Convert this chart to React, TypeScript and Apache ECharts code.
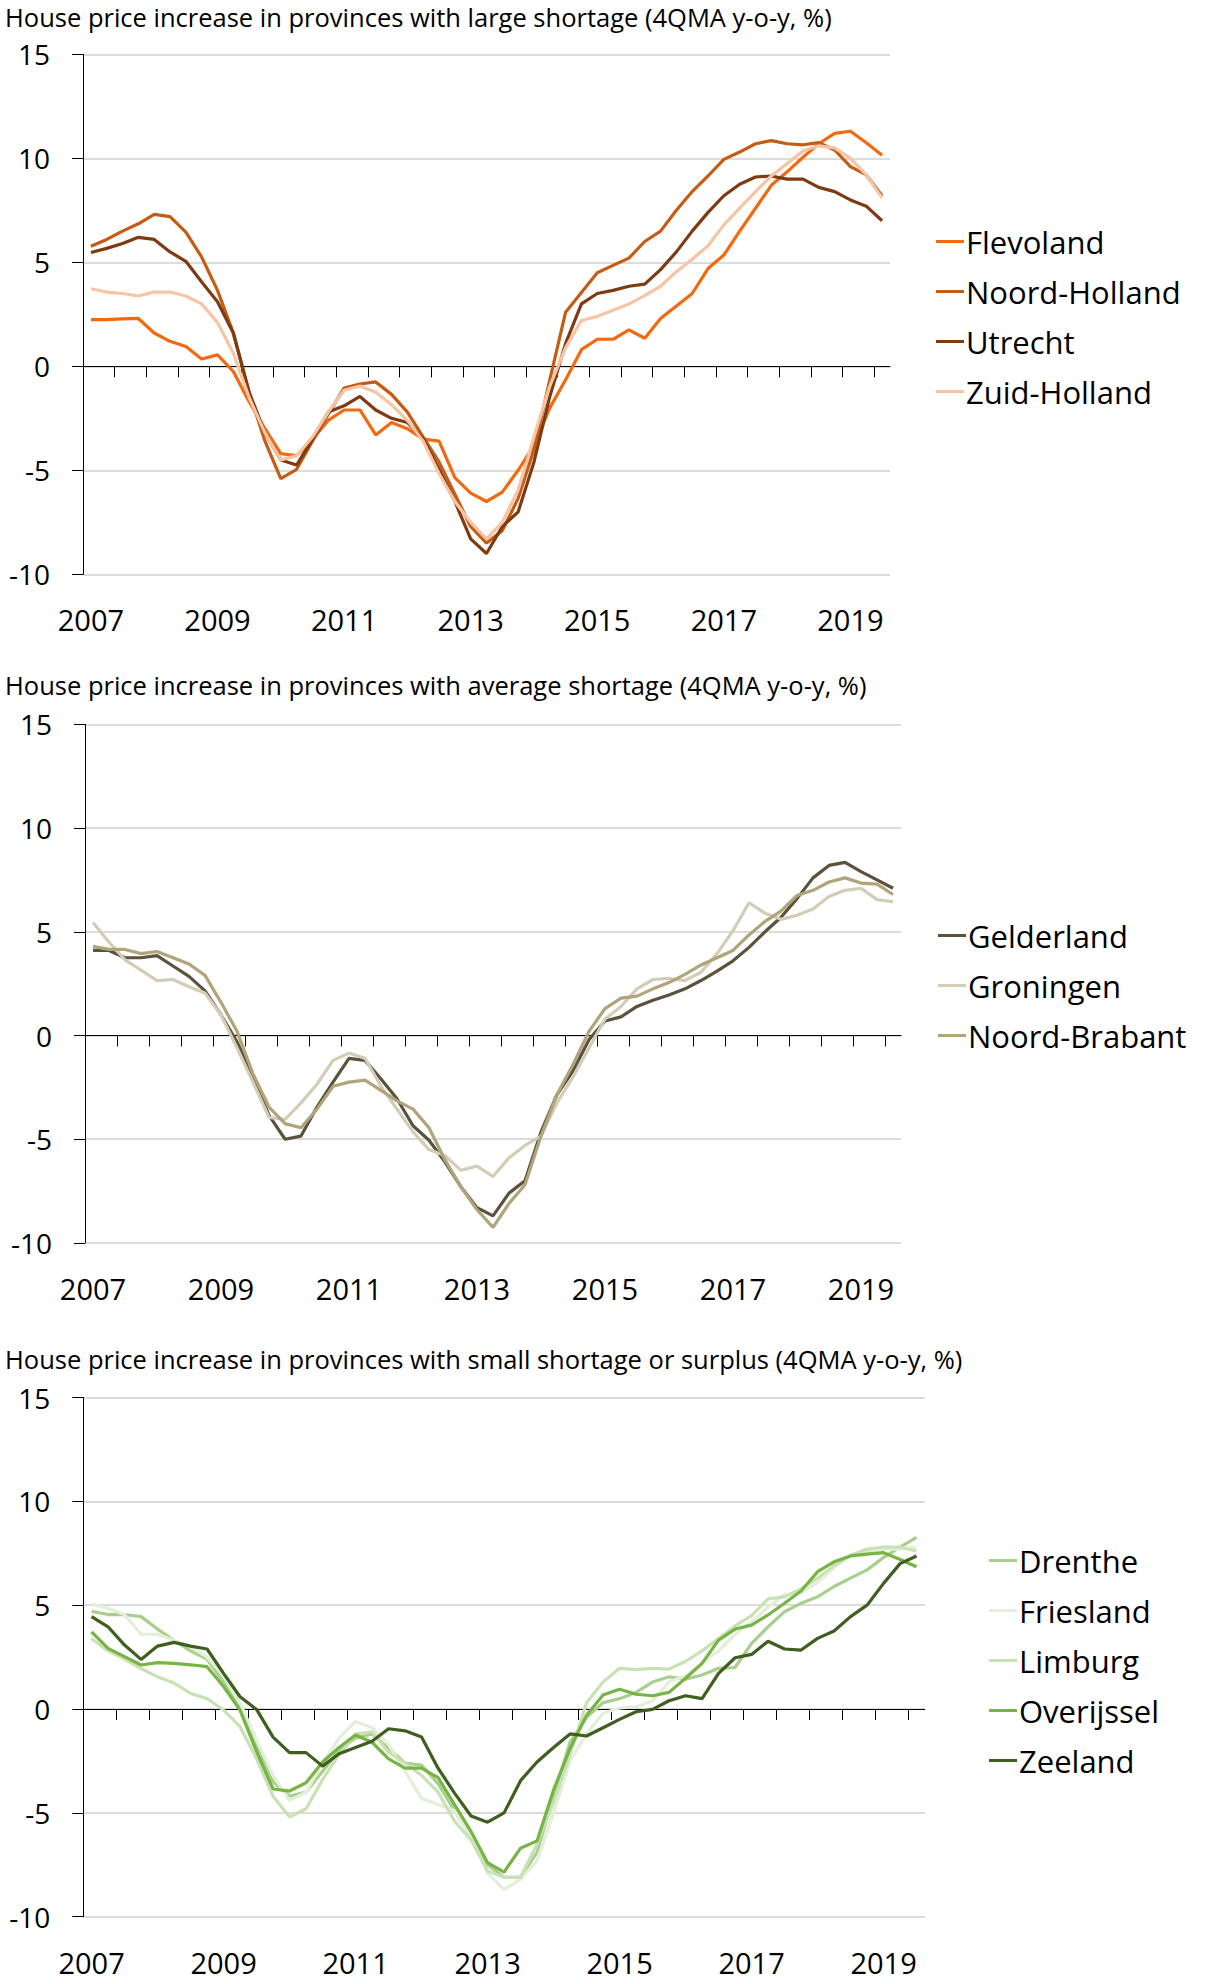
import React, { useEffect, useRef } from "react";
import * as echarts from "echarts";

const years = [2007, 2008, 2009, 2010, 2011, 2012, 2013, 2014, 2015, 2016, 2017, 2018, 2019];
const quarterNames = ["Q1", "Q2", "Q3", "Q4"];
const lastQuarterCount = 3; // 2019 runs to Q3
const labelYears = ["2007", "2009", "2011", "2013", "2015", "2017", "2019"];
const yTicks = { min: -10, max: 15, interval: 5 };

const titles = [
  "House price increase in provinces with large shortage (4QMA y-o-y, %)",
  "House price increase in provinces with average shortage (4QMA y-o-y, %)",
  "House price increase in provinces with small shortage or surplus (4QMA y-o-y, %)",
];

// Chart 1: large shortage
const flevoland = [2.24, 2.24, 2.28, 2.3, 1.6, 1.2, 0.95, 0.35, 0.55, -0.25, -1.7, -3.0, -4.2, -4.3, -3.5, -2.6, -2.1, -2.1, -3.3, -2.7, -3.0, -3.5, -3.6, -5.35, -6.1, -6.5, -6.05, -5.0, -3.8, -2.0, -0.65, 0.8, 1.3, 1.3, 1.75, 1.35, 2.3, 2.9, 3.5, 4.7, 5.35, 6.5, 7.6, 8.7, 9.35, 10.05, 10.7, 11.2, 11.3, 10.75, 10.15];
const noordHolland = [5.77, 6.1, 6.5, 6.85, 7.3, 7.2, 6.45, 5.25, 3.65, 1.6, -1.25, -3.6, -5.4, -4.95, -3.6, -2.3, -1.05, -0.85, -0.75, -1.35, -2.2, -3.4, -4.6, -6.15, -7.7, -8.5, -7.9, -6.35, -4.0, -0.65, 2.6, 3.55, 4.5, 4.85, 5.2, 6.0, 6.5, 7.5, 8.4, 9.15, 9.95, 10.3, 10.7, 10.85, 10.7, 10.65, 10.75, 10.4, 9.6, 9.2, 8.2];
const utrecht = [5.47, 5.67, 5.9, 6.2, 6.1, 5.5, 5.05, 4.05, 3.1, 1.6, -1.25, -3.2, -4.5, -4.75, -3.5, -2.2, -1.9, -1.45, -2.1, -2.5, -2.7, -3.5, -4.95, -6.5, -8.3, -9.0, -7.7, -7.0, -4.6, -1.45, 1.1, 3.0, 3.5, 3.65, 3.85, 3.95, 4.65, 5.5, 6.5, 7.4, 8.2, 8.75, 9.1, 9.15, 9.0, 9.0, 8.6, 8.4, 8.0, 7.7, 7.0];
const zuidHolland = [3.73, 3.57, 3.5, 3.38, 3.57, 3.57, 3.38, 3.0, 2.1, 0.63, -1.5, -3.2, -4.5, -4.3, -3.4, -2.2, -1.15, -0.95, -1.25, -1.85, -2.6, -3.6, -5.15, -6.5, -7.5, -8.3, -7.5, -5.95, -3.4, -0.95, 0.9, 2.2, 2.4, 2.7, 3.0, 3.4, 3.85, 4.55, 5.15, 5.8, 6.8, 7.6, 8.4, 9.15, 9.75, 10.35, 10.6, 10.5, 10.0, 9.2, 8.1];

// Chart 2: average shortage
const gelderland = [4.1, 4.1, 3.75, 3.75, 3.85, 3.35, 2.85, 2.15, 1.0, -0.3, -2.0, -3.85, -5.0, -4.85, -3.45, -2.25, -1.1, -1.2, -2.1, -3.05, -4.35, -5.05, -6.1, -7.3, -8.3, -8.7, -7.6, -7.0, -4.65, -2.85, -1.7, -0.2, 0.7, 0.9, 1.4, 1.7, 1.95, 2.25, 2.65, 3.1, 3.6, 4.25, 5.0, 5.7, 6.6, 7.6, 8.2, 8.35, 7.9, 7.5, 7.1];
const groningen = [5.45, 4.5, 3.65, 3.15, 2.65, 2.7, 2.35, 2.05, 1.0, -0.6, -2.25, -3.95, -4.05, -3.25, -2.35, -1.2, -0.85, -1.1, -2.45, -3.55, -4.65, -5.5, -5.8, -6.5, -6.3, -6.8, -5.9, -5.3, -4.85, -3.25, -2.0, -0.6, 0.8, 1.4, 2.25, 2.7, 2.75, 2.65, 3.05, 3.95, 5.05, 6.4, 5.9, 5.6, 5.8, 6.1, 6.7, 7.0, 7.1, 6.55, 6.45];
const noordBrabant = [4.3, 4.15, 4.15, 3.95, 4.05, 3.75, 3.45, 2.9, 1.6, 0.2, -1.85, -3.45, -4.25, -4.45, -3.55, -2.45, -2.25, -2.15, -2.65, -3.15, -3.55, -4.45, -6.0, -7.3, -8.4, -9.25, -8.1, -7.2, -4.85, -2.85, -1.4, 0.2, 1.3, 1.8, 1.9, 2.25, 2.55, 2.95, 3.4, 3.75, 4.1, 4.85, 5.5, 6.0, 6.75, 7.0, 7.4, 7.6, 7.35, 7.3, 6.8];

// Chart 3: small shortage or surplus
const drenthe = [4.7, 4.55, 4.55, 4.45, 3.85, 3.3, 2.8, 2.4, 1.3, 0.0, -1.8, -3.5, -4.2, -4.0, -3.0, -2.0, -1.4, -1.2, -1.9, -2.6, -2.7, -3.6, -4.9, -6.1, -7.5, -8.1, -8.1, -6.9, -4.2, -1.6, -0.4, 0.3, 0.5, 0.8, 1.3, 1.55, 1.43, 1.64, 1.96, 2.0, 3.16, 3.96, 4.69, 5.09, 5.4, 5.9, 6.3, 6.7, 7.3, 7.8, 8.27];
const friesland = [5.05, 4.85, 4.55, 3.6, 3.6, 3.3, 3.0, 2.5, 1.6, 0.3, -1.5, -3.2, -4.4, -4.0, -2.6, -1.4, -0.6, -0.9, -1.7, -3.0, -4.3, -4.6, -4.9, -6.1, -7.9, -8.7, -8.2, -7.3, -5.0, -2.5, -1.2, -0.2, 0.05, 0.1, 0.4, 1.3, 1.6, 2.2, 2.8, 3.6, 4.2, 4.9, 5.5, 5.6, 6.1, 6.8, 7.4, 7.6, 7.7, 7.7, 7.8];
const limburg = [3.4, 2.8, 2.4, 1.95, 1.55, 1.25, 0.75, 0.5, -0.05, -0.85, -2.4, -4.2, -5.2, -4.8, -3.4, -2.2, -1.2, -1.1, -2.1, -2.6, -3.2, -4.0, -5.4, -6.3, -7.8, -8.1, -8.1, -6.5, -4.5, -2.2, 0.3, 1.3, 1.96, 1.9, 1.96, 1.92, 2.3, 2.8, 3.4, 4.0, 4.5, 5.3, 5.4, 5.8, 6.3, 6.9, 7.4, 7.7, 7.8, 7.8, 7.6];
const overijssel = [3.72, 2.92, 2.52, 2.12, 2.23, 2.2, 2.13, 2.04, 1.08, -0.05, -2.05, -3.85, -3.95, -3.55, -2.55, -1.85, -1.25, -1.6, -2.4, -2.85, -2.85, -3.3, -4.6, -5.9, -7.4, -7.85, -6.7, -6.35, -3.9, -1.9, -0.3, 0.67, 0.95, 0.71, 0.64, 0.8, 1.48, 2.2, 3.32, 3.85, 4.04, 4.53, 5.09, 5.68, 6.61, 7.09, 7.37, 7.46, 7.53, 7.2, 6.85];
const zeeland = [4.45, 3.96, 3.08, 2.39, 3.03, 3.21, 3.03, 2.89, 1.72, 0.59, -0.02, -1.35, -2.1, -2.1, -2.75, -2.15, -1.85, -1.55, -0.95, -1.05, -1.35, -2.85, -4.05, -5.15, -5.45, -5.0, -3.45, -2.55, -1.85, -1.2, -1.3, -0.9, -0.5, -0.13, -0.02, 0.4, 0.64, 0.5, 1.72, 2.47, 2.63, 3.26, 2.89, 2.84, 3.4, 3.76, 4.45, 5.0, 6.05, 7.0, 7.37];

const quarters: string[] = [];
years.forEach((y, yi) => {
  const n = yi === years.length - 1 ? lastQuarterCount : 4;
  for (let q = 0; q < n; q++) quarters.push(y + quarterNames[q]);
});
// half-year tick positions on the zero line (category boundaries 0, 2, ..., 50)
const tickPositions: number[] = [];
for (let b = 0; b < quarters.length; b += 2) tickPositions.push(b);

const FONT = "Open Sans";

const panels = [
  {
    title: titles[0],
    series: [
      { name: "Flevoland", data: flevoland, color: "#F26A10" },
      { name: "Noord-Holland", data: noordHolland, color: "#C65B14" },
      { name: "Utrecht", data: utrecht, color: "#7E3B12" },
      { name: "Zuid-Holland", data: zuidHolland, color: "#F8C4A4" },
    ],
    grid: { left: 83, top: 54.3, width: 807, height: 520 },
    titleTop: 3,
    legend: { left: 936, top: 226 },
  },
  {
    title: titles[1],
    series: [
      { name: "Gelderland", data: gelderland, color: "#5B523E" },
      { name: "Groningen", data: groningen, color: "#D3CDB8" },
      { name: "Noord-Brabant", data: noordBrabant, color: "#B0A47A" },
    ],
    grid: { left: 85, top: 724.4, width: 816, height: 518.5 },
    titleTop: 671,
    legend: { left: 938, top: 920 },
  },
  {
    title: titles[2],
    series: [
      { name: "Drenthe", data: drenthe, color: "#A8D08C" },
      { name: "Friesland", data: friesland, color: "#E3EFD9" },
      { name: "Limburg", data: limburg, color: "#C8E2B5" },
      { name: "Overijssel", data: overijssel, color: "#77B443" },
      { name: "Zeeland", data: zeeland, color: "#3E5F1F" },
    ],
    grid: { left: 83.3, top: 1397.5, width: 841.5, height: 519.2 },
    titleTop: 1345,
    legend: { left: 989, top: 1545 },
  },
];

function buildOption() {
  const title: any[] = [];
  const grid: any[] = [];
  const xAxis: any[] = [];
  const yAxis: any[] = [];
  const legend: any[] = [];
  const series: any[] = [];

  panels.forEach((p, pi) => {
    title.push({
      text: p.title,
      left: 5,
      top: p.titleTop,
      padding: 0,
      textStyle: { fontFamily: FONT, fontSize: 25.5, fontWeight: "normal", color: "#000", lineHeight: 28 },
    });
    grid.push({ ...p.grid, containLabel: false });
    // category axis carrying the data and the year labels at the bottom
    xAxis.push({
      type: "category",
      gridIndex: pi,
      data: quarters,
      boundaryGap: true,
      position: "bottom",
      axisLine: { show: false, onZero: false },
      axisTick: { show: false },
      splitLine: { show: false },
      axisLabel: {
        show: true,
        interval: (idx: number, val: string) => labelYears.includes(val.slice(0, 4)) && val.endsWith("Q1"),
        formatter: (val: string) => val.slice(0, 4),
        margin: 31,
        fontFamily: FONT,
        fontSize: 29,
        color: "#000",
      },
    });
    // zero line with half-year ticks
    xAxis.push({
      type: "value",
      gridIndex: pi,
      min: 0,
      max: quarters.length,
      position: "bottom",
      axisLine: { show: true, onZero: true, lineStyle: { color: "#000", width: 1 } },
      axisTick: { show: true, customValues: tickPositions, length: 11, lineStyle: { color: "#000", width: 1 } },
      axisLabel: { show: false },
      splitLine: { show: false },
    });
    yAxis.push({
      type: "value",
      gridIndex: pi,
      min: yTicks.min,
      max: yTicks.max,
      interval: yTicks.interval,
      axisLine: { show: true, lineStyle: { color: "#000", width: 1 } },
      axisTick: { show: true, length: 11, lineStyle: { color: "#000", width: 1 } },
      axisLabel: { margin: 33, fontFamily: FONT, fontSize: 28, color: "#000" },
      splitLine: { show: true, lineStyle: { color: "#DCDCDC", width: 2 } },
    });
    legend.push({
      orient: "vertical",
      left: p.legend.left,
      top: p.legend.top,
      padding: 0,
      itemGap: 19,
      itemWidth: 28,
      itemHeight: 3,
      icon: "rect",
      data: p.series.map((s) => s.name),
      textStyle: { fontFamily: FONT, fontSize: 31, color: "#000", padding: [0, 0, 0, -3] },
    });
    p.series.forEach((s) => {
      series.push({
        type: "line",
        name: s.name,
        xAxisIndex: pi * 2,
        yAxisIndex: pi,
        data: s.data,
        symbol: "none",
        showSymbol: false,
        color: s.color,
        lineStyle: { color: s.color, width: 3.2 },
        emphasis: { disabled: true },
      });
    });
  });

  return { animation: false, backgroundColor: "#fff", title, grid, xAxis, yAxis, legend, series };
}

export default function App() {
  const ref = useRef<HTMLDivElement>(null);
  useEffect(() => {
    document.body.style.margin = "0";
    const chart = echarts.init(ref.current!, undefined, { renderer: "svg" });
    chart.setOption(buildOption() as any);
    return () => chart.dispose();
  }, []);
  return <div ref={ref} style={{ width: 1209, height: 1984 }} />;
}
